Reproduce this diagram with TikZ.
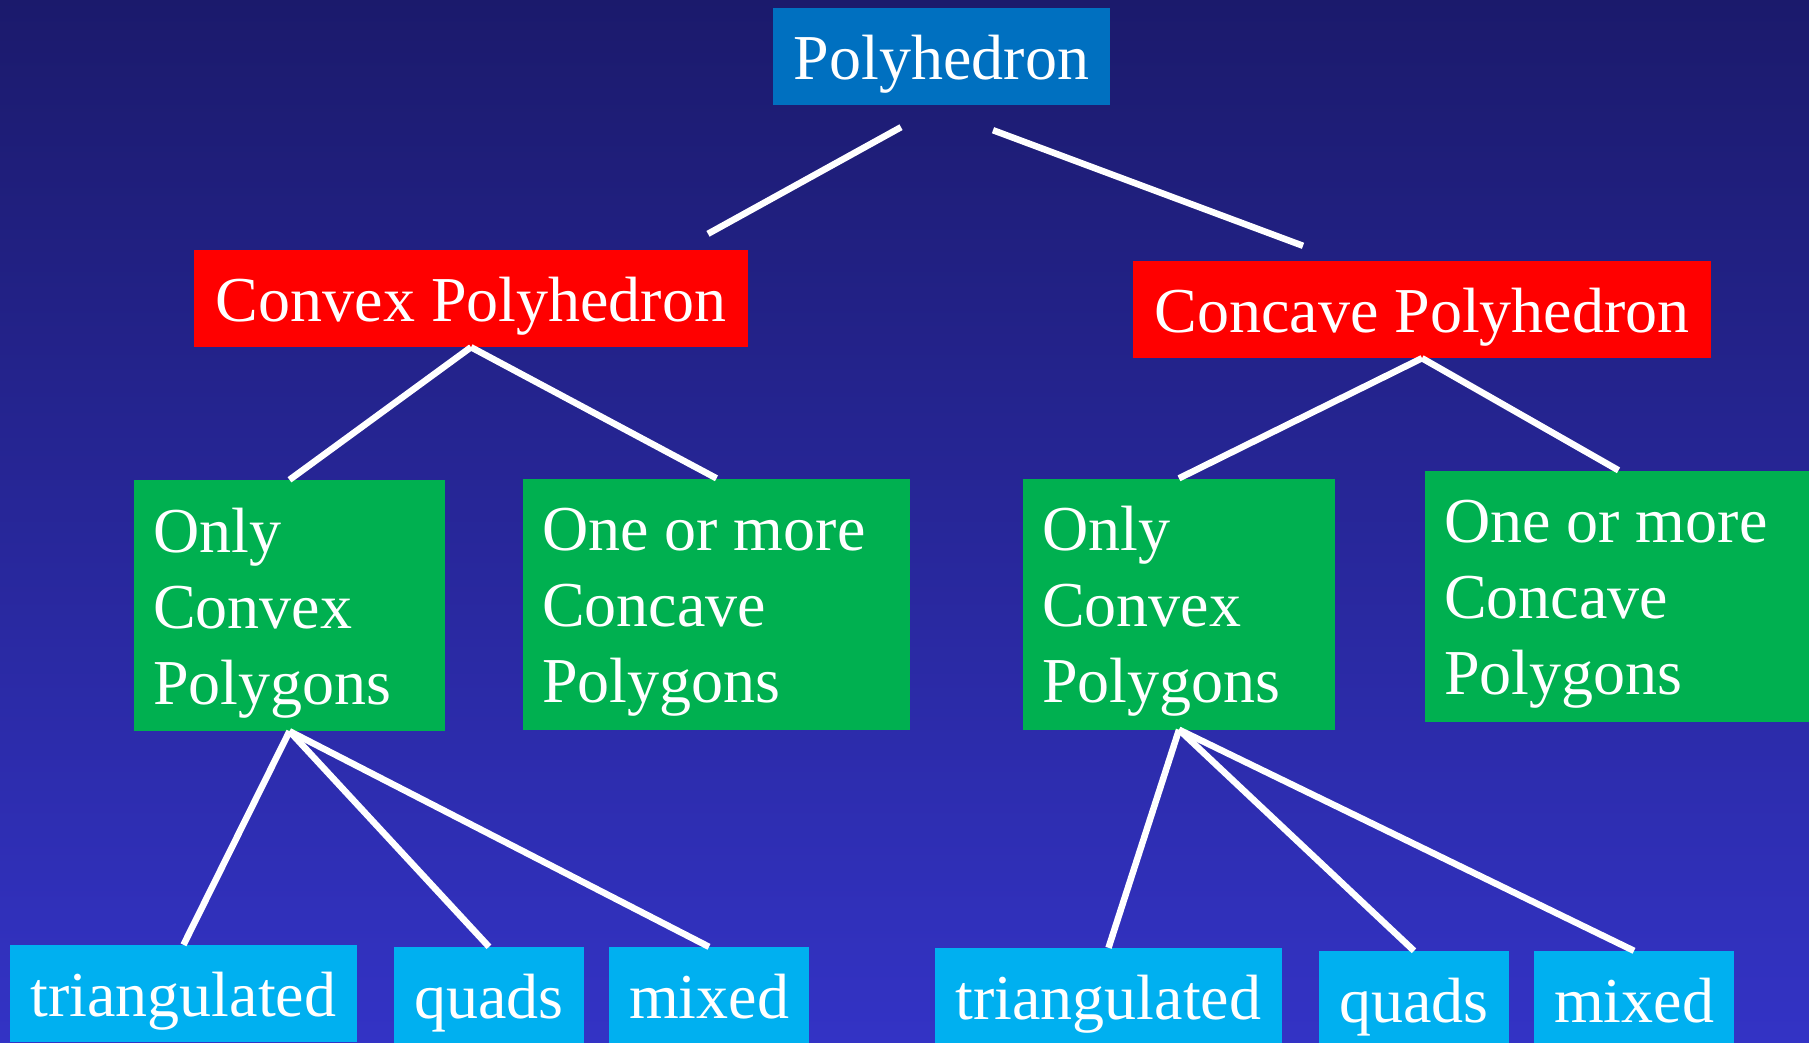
\documentclass[tikz,border=0pt]{standalone}
\usepackage{fontspec}
\setmainfont{Liberation Serif}
\usetikzlibrary{calc}
\definecolor{bgtop}{RGB}{27,26,108}
\definecolor{bgbot}{RGB}{51,51,197}
\definecolor{polyblue}{RGB}{0,112,192}
\definecolor{boxred}{RGB}{255,0,0}
\definecolor{boxgreen}{RGB}{0,176,80}
\definecolor{boxcyan}{RGB}{0,176,240}
\newcommand\mystrut{\rule[-15pt]{0pt}{75pt}}
\begin{document}
\begin{tikzpicture}[x=1pt,y=-1pt,
  box/.style={inner sep=0pt, font=\fontsize{64}{76}\selectfont, text=white, anchor=center, minimum height=97pt},
  topbox/.style={box, fill=polyblue},
  redbox/.style={box, fill=boxred},
  greenbox/.style={box, fill=boxgreen, align=flush left, inner xsep=19pt, minimum height=251pt},
  cyanbox/.style={box, fill=boxcyan},
  conn/.style={draw=white, line width=6.5pt}]
\useasboundingbox (0,0) rectangle (1809,1042);
\clip (0,0) rectangle (1809,1042);
\shade[top color=bgtop, bottom color=bgbot] (0,0) rectangle (1809,1042);

\node[topbox, minimum width=337pt] (poly) at (941.5,56.5) {\mystrut Polyhedron};
\node[redbox, minimum width=554pt] (conv) at (471,298.5) {\mystrut Convex Polyhedron};
\node[redbox, minimum width=578pt] (conc) at (1422,309.5) {\mystrut Concave Polyhedron};

\node[greenbox, text width=273pt] (g1) at (289.5,605.5) {\mystrut Only\\\mystrut Convex\\\mystrut Polygons};
\node[greenbox, text width=349pt] (g2) at (716.5,604) {\mystrut One or more\\\mystrut Concave\\\mystrut Polygons};
\node[greenbox, text width=274pt] (g3) at (1179,604) {\mystrut Only\\\mystrut Convex\\\mystrut Polygons};
\node[greenbox, text width=349pt] (g4) at (1618.5,596) {\mystrut One or more\\\mystrut Concave\\\mystrut Polygons};

\node[cyanbox, minimum width=347pt] (tri1) at (183.5,993.5) {\mystrut triangulated};
\node[cyanbox, minimum width=190pt] (quad1) at (489,995.5) {\mystrut quads};
\node[cyanbox, minimum width=200pt] (mix1) at (709,995.5) {\mystrut mixed};
\node[cyanbox, minimum width=347pt] (tri2) at (1108.5,996.5) {\mystrut triangulated};
\node[cyanbox, minimum width=190pt] (quad2) at (1414,999.5) {\mystrut quads};
\node[cyanbox, minimum width=200pt] (mix2) at (1634,999.5) {\mystrut mixed};

\draw[conn] ($(poly.south)+(-40.5,22)$) -- ($(conv.north)+(237,-16)$);
\draw[conn] ($(poly.south)+(51.5,25)$) -- ($(conc.north)+(-119,-15)$);

\draw[conn] (conv.south) -- (g1.north);
\draw[conn] (conv.south) -- (g2.north);
\draw[conn] (conc.south) -- (g3.north);
\draw[conn] (conc.south) -- (g4.north);

\draw[conn] (g1.south) -- (tri1.north);
\draw[conn] (g1.south) -- (quad1.north);
\draw[conn] (g1.south) -- (mix1.north);
\draw[conn] (g3.south) -- (tri2.north);
\draw[conn] (g3.south) -- (quad2.north);
\draw[conn] (g3.south) -- (mix2.north);
\end{tikzpicture}
\end{document}
